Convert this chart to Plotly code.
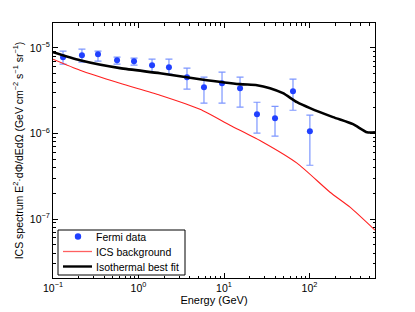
import numpy as np
import plotly.graph_objects as go

# Fermi data
fermi_E = [0.131, 0.218, 0.336, 0.561, 0.886, 1.44, 2.27, 3.69, 5.83, 9.48, 15.4, 24.3, 39.5, 64.1, 101]
fermi_val = [7.80e-6, 8.24e-6, 8.46e-6, 7.19e-6, 7.01e-6, 6.30e-6, 5.96e-6, 4.55e-6, 3.48e-6, 3.87e-6,
             3.39e-6, 1.68e-6, 1.51e-6, 3.12e-6, 1.06e-6]
fermi_hi = [9.18e-6, 9.68e-6, 9.18e-6, 7.80e-6, 7.60e-6, 7.40e-6, 7.40e-6, 5.81e-6, 4.55e-6, 5.21e-6,
            4.55e-6, 2.32e-6, 2.08e-6, 4.32e-6, 1.64e-6]
fermi_lo = [6.46e-6, 6.83e-6, 7.01e-6, 6.46e-6, 6.30e-6, 5.21e-6, 4.94e-6, 3.30e-6, 2.26e-6, 2.26e-6,
            2.03e-6, 1.01e-6, 9.3e-7, 1.87e-6, 4.25e-7]

# ICS background (log10 E, log10 value)
ics_logE = [-1.0, -0.684, -0.216, 0.252, 0.719, 1.070, 1.456, 1.854, 2.240, 2.474, 2.766]
ics_logV = [-5.131, -5.260, -5.412, -5.552, -5.716, -5.903, -6.102, -6.347, -6.687, -6.862, -7.131]

# Isothermal best fit (log10 E, log10 value)
iso_logE = [-1.0, -0.684, -0.216, 0.252, 0.719, 1.187, 1.386, 1.538, 1.690, 1.854, 2.006, 2.275, 2.509, 2.673, 2.766]
iso_logV = [-5.049, -5.143, -5.236, -5.295, -5.365, -5.423, -5.435, -5.470, -5.529, -5.634, -5.704,
            -5.809, -5.891, -5.985, -5.985]

legend_labels = ["Fermi data", "ICS background", "Isothermal best fit"]

err_plus = [h - v for h, v in zip(fermi_hi, fermi_val)]
err_minus = [v - l for v, l in zip(fermi_val, fermi_lo)]

FONT = "Liberation Sans, Arial, Helvetica, sans-serif"
BLUE = "#2040ff"
RED = "#ff2020"

# plot area in pixels
L, R, T, B = 53, 375, 23, 278
W, H = 415, 312


def px(xp):
    return (xp - L) / (R - L)


def py(yp):
    return (B - yp) / (B - T)


fig = go.Figure()
fig.add_trace(go.Scatter(
    x=fermi_E, y=fermi_val, mode="markers", name=legend_labels[0],
    marker=dict(color=BLUE, size=6),
    error_y=dict(type="data", symmetric=False, array=err_plus, arrayminus=err_minus,
                 color="rgba(80,115,255,0.75)", thickness=1.2, width=3.5),
))
fig.add_trace(go.Scatter(
    x=[10 ** v for v in ics_logE], y=[10 ** v for v in ics_logV], mode="lines",
    name=legend_labels[1], line=dict(color=RED, width=1.1, shape="spline", smoothing=0.6),
))
fig.add_trace(go.Scatter(
    x=[10 ** v for v in iso_logE], y=[10 ** v for v in iso_logV], mode="lines",
    name=legend_labels[2], line=dict(color="black", width=2.6, shape="spline", smoothing=0.6),
))


def sup(n):
    return "10<sup>%s</sup>" % (str(n).replace("-", "\u2212"))


x_major = [0.1, 1, 10, 100]
x_minor = [m * 10 ** d for d in range(-1, 3) for m in range(2, 10)]
y_major = [1e-7, 1e-6, 1e-5]
y_minor = [m * 10 ** d for d in range(-8, -4) for m in range(2, 10)]

axis_common = dict(type="log", showline=True, linecolor="black", linewidth=1, mirror="ticks",
                   ticks="inside", ticklen=5, tickcolor="black", showgrid=False, zeroline=False,
                   automargin=False,
                   tickfont=dict(family=FONT, size=10.5, color="black"))

fig.update_xaxes(range=[-1, 2.766], tickvals=x_major, ticktext=[sup(-1), sup(0), sup(1), sup(2)],
                 minor=dict(tickvals=x_minor, ticks="inside", ticklen=2.5, tickcolor="black"),
                 title=dict(text="Energy (GeV)", font=dict(family=FONT, size=11, color="black"), standoff=2),
                 **axis_common)
fig.update_yaxes(range=[-7.69, -4.708], tickvals=y_major, ticktext=[sup(-7), sup(-6), sup(-5)],
                 minor=dict(tickvals=y_minor, ticks="inside", ticklen=2.5, tickcolor="black"),
                 title=dict(text="ICS spectrum E<sup>2</sup>\u00b7d\u03a6/dEd\u03a9 (GeV cm<sup>\u22122</sup> s<sup>\u22121</sup> sr<sup>\u22121</sup>)",
                            font=dict(family=FONT, size=10.5, color="black"), standoff=4),
                 **axis_common)

# custom compact legend
box = dict(x0=58, x1=185, y0=230, y1=275)
rows = [236.5, 251.5, 266.5]
shapes = [dict(type="rect", xref="paper", yref="paper",
               x0=px(box["x0"]), x1=px(box["x1"]), y0=py(box["y1"]), y1=py(box["y0"]),
               line=dict(color="black", width=1), fillcolor="white", layer="above")]
r = 3.2
shapes.append(dict(type="circle", xref="paper", yref="paper",
                   x0=px(78 - r), x1=px(78 + r), y0=py(rows[0] + r), y1=py(rows[0] - r),
                   line=dict(color=BLUE, width=0), fillcolor=BLUE, layer="above"))
shapes.append(dict(type="line", xref="paper", yref="paper",
                   x0=px(63), x1=px(92), y0=py(rows[1]), y1=py(rows[1]),
                   line=dict(color="#ff6060", width=1.3), layer="above"))
shapes.append(dict(type="line", xref="paper", yref="paper",
                   x0=px(63), x1=px(92), y0=py(rows[2]), y1=py(rows[2]),
                   line=dict(color="black", width=2.4), layer="above"))
annotations = [dict(text=lab, xref="paper", yref="paper", x=px(94), y=py(yr),
                    xanchor="left", yanchor="middle", showarrow=False,
                    font=dict(family=FONT, size=10.5, color="black"))
               for lab, yr in zip(legend_labels, rows)]

fig.update_layout(
    width=W, height=H, margin=dict(l=L, r=W - R, t=T, b=H - B),
    paper_bgcolor="white", plot_bgcolor="white",
    font=dict(family=FONT, color="black"),
    showlegend=False,
    shapes=shapes, annotations=annotations,
)

fig.write_html("out.html", config={"displayModeBar": False},
               post_script="document.body.style.margin='0';document.body.style.padding='0';")
